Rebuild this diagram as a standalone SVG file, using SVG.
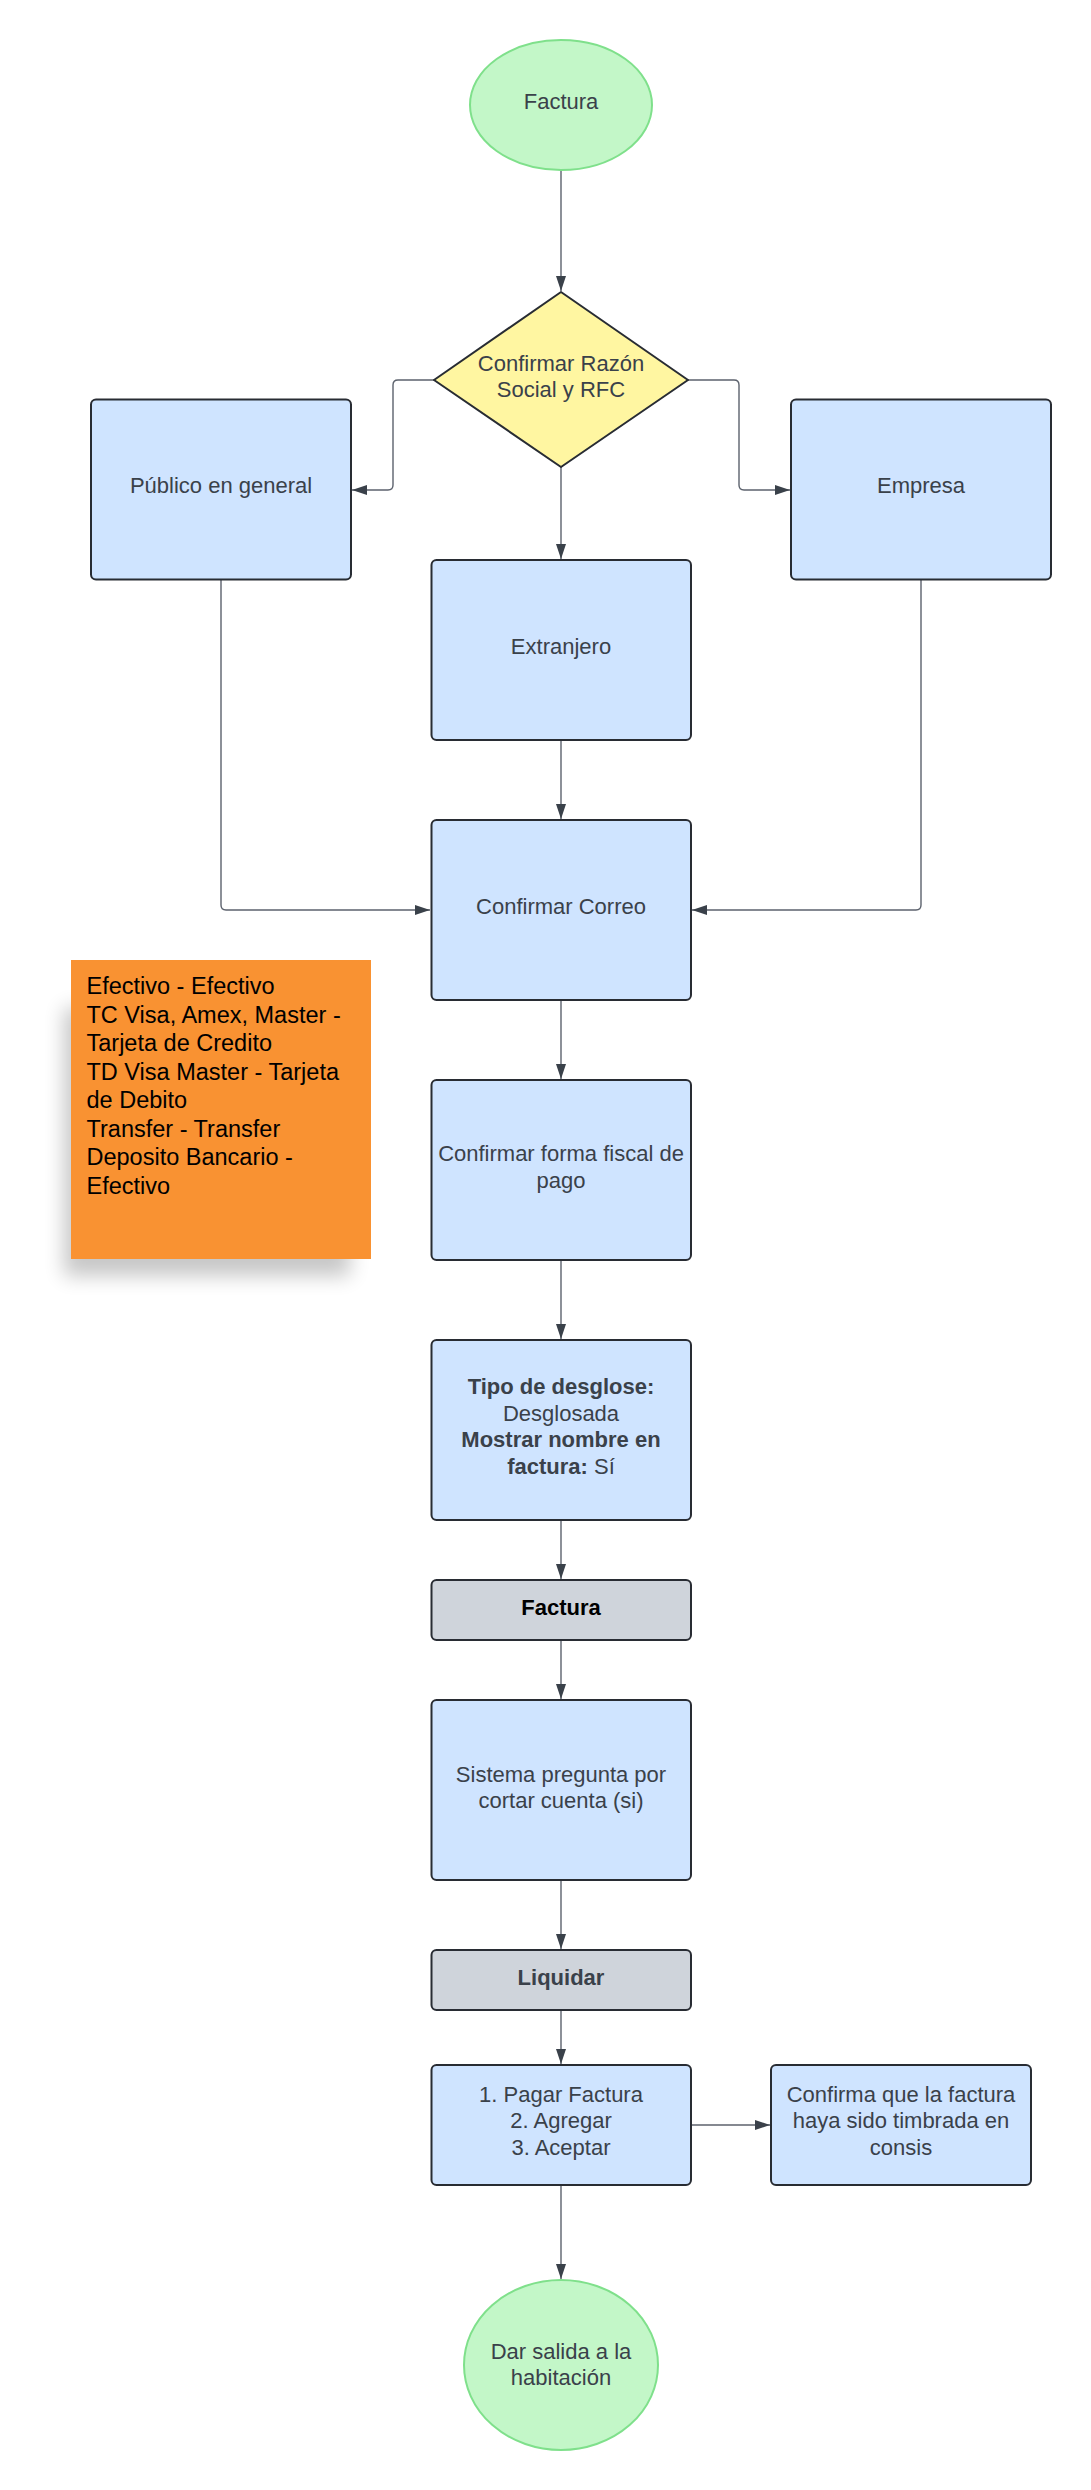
<svg xmlns="http://www.w3.org/2000/svg" width="1091" height="2490" viewBox="0 0 1091 2490">
<style>
.box{fill:#cfe4ff;stroke:#282c33;stroke-width:2}
.gray{fill:#cfd4db;stroke:#282c33;stroke-width:2}
.term{fill:#c3f7c8;stroke:#7fe08b;stroke-width:2}
.dec{fill:#fff6a1;stroke:#282c33;stroke-width:2;stroke-linejoin:round}
.t{font-family:"Liberation Sans",Arial,sans-serif;font-size:22px;fill:#3a414a;text-anchor:middle}
.b{font-weight:bold}
.note{font-family:"Liberation Sans",Arial,sans-serif;font-size:23.5px;fill:#000}
.c{fill:none;stroke:#5c626d;stroke-width:1.4}
</style>
<defs>
<marker id="arr" markerUnits="userSpaceOnUse" markerWidth="16" markerHeight="11" refX="15" refY="5" orient="auto">
<path d="M0,0 L15,5 L0,10 z" fill="#3a414a"/>
</marker>
<filter id="sh" x="-25%" y="-25%" width="150%" height="150%">
<feGaussianBlur stdDeviation="10"/>
</filter>
</defs>

<g id="connectors">
<path class="c" marker-end="url(#arr)" d="M561,170 L561,291"/>
<path class="c" marker-end="url(#arr)" d="M434,380 L398,380 Q393,380 393,385 L393,485 Q393,490 388,490 L352,490"/>
<path class="c" marker-end="url(#arr)" d="M688,380 L734,380 Q739,380 739,385 L739,485 Q739,490 744,490 L790,490"/>
<path class="c" marker-end="url(#arr)" d="M561,467 L561,559"/>
<path class="c" marker-end="url(#arr)" d="M561,740 L561,819"/>
<path class="c" marker-end="url(#arr)" d="M221,580 L221,905 Q221,910 226,910 L430,910"/>
<path class="c" marker-end="url(#arr)" d="M921,580 L921,905 Q921,910 916,910 L692,910"/>
<path class="c" marker-end="url(#arr)" d="M561,1000 L561,1079"/>
<path class="c" marker-end="url(#arr)" d="M561,1260 L561,1339"/>
<path class="c" marker-end="url(#arr)" d="M561,1520 L561,1579"/>
<path class="c" marker-end="url(#arr)" d="M561,1640 L561,1699"/>
<path class="c" marker-end="url(#arr)" d="M561,1880 L561,1949"/>
<path class="c" marker-end="url(#arr)" d="M561,2010 L561,2064"/>
<path class="c" marker-end="url(#arr)" d="M691,2125 L770,2125"/>
<path class="c" marker-end="url(#arr)" d="M561,2185 L561,2279"/>
</g>

<g id="n-factura-start">
<ellipse class="term" cx="561" cy="105" rx="91" ry="65"/>
<text class="t" x="561" y="108.5">Factura</text>
</g>

<g id="n-razon">
<path class="dec" d="M561,292 L688,380 L561,467 L434,380 Z"/>
<text class="t" x="561" y="370.7">Confirmar Razón</text>
<text class="t" x="561" y="396.7">Social y RFC</text>
</g>

<g id="n-publico">
<rect class="box" x="91" y="399.5" width="260" height="180" rx="5"/>
<text class="t" x="221" y="493">Público en general</text>
</g>

<g id="n-empresa">
<rect class="box" x="791" y="399.5" width="260" height="180" rx="5"/>
<text class="t" x="921" y="493">Empresa</text>
</g>

<g id="n-extranjero">
<rect class="box" x="431.5" y="560" width="259.5" height="180" rx="5"/>
<text class="t" x="561" y="653.5">Extranjero</text>
</g>

<g id="n-correo">
<rect class="box" x="431.5" y="820" width="259.5" height="180" rx="5"/>
<text class="t" x="561" y="913.5">Confirmar Correo</text>
</g>

<g id="n-note">
<rect x="64" y="1008" width="286" height="268" fill="#000" opacity="0.22" filter="url(#sh)"/>
<rect x="71" y="960" width="300" height="299" fill="#f99232"/>
<text class="note" x="86.5" y="994">Efectivo - Efectivo</text>
<text class="note" x="86.5" y="1022.5">TC Visa, Amex, Master -</text>
<text class="note" x="86.5" y="1051">Tarjeta de Credito</text>
<text class="note" x="86.5" y="1079.5">TD Visa Master - Tarjeta</text>
<text class="note" x="86.5" y="1108">de Debito</text>
<text class="note" x="86.5" y="1136.5">Transfer - Transfer</text>
<text class="note" x="86.5" y="1165">Deposito Bancario -</text>
<text class="note" x="86.5" y="1193.5">Efectivo</text>
</g>

<g id="n-forma">
<rect class="box" x="431.5" y="1080" width="259.5" height="180" rx="5"/>
<text class="t" x="561" y="1161">Confirmar forma fiscal de</text>
<text class="t" x="561" y="1187.6">pago</text>
</g>

<g id="n-desglose">
<rect class="box" x="431.5" y="1340" width="259.5" height="180" rx="5"/>
<text class="t b" x="561" y="1394.2">Tipo de desglose:</text>
<text class="t" x="561" y="1420.8">Desglosada</text>
<text class="t b" x="561" y="1447.4">Mostrar nombre en</text>
<text class="t" x="561" y="1474"><tspan class="b">factura:</tspan> Sí</text>
</g>

<g id="n-factura-btn">
<rect class="gray" x="431.5" y="1580" width="259.5" height="60" rx="5"/>
<text class="t b" x="561" y="1614.5" style="fill:#000">Factura</text>
</g>

<g id="n-sistema">
<rect class="box" x="431.5" y="1700" width="259.5" height="180" rx="5"/>
<text class="t" x="561" y="1781.5">Sistema pregunta por</text>
<text class="t" x="561" y="1808.1">cortar cuenta (si)</text>
</g>

<g id="n-liquidar">
<rect class="gray" x="431.5" y="1950" width="259.5" height="60" rx="5"/>
<text class="t b" x="561" y="1984.5">Liquidar</text>
</g>

<g id="n-pagar">
<rect class="box" x="431.5" y="2065" width="259.5" height="120" rx="5"/>
<text class="t" x="561" y="2101.5">1. Pagar Factura</text>
<text class="t" x="561" y="2128.1">2. Agregar</text>
<text class="t" x="561" y="2154.7">3. Aceptar</text>
</g>

<g id="n-confirma">
<rect class="box" x="771" y="2065" width="260" height="120" rx="5"/>
<text class="t" x="901" y="2101.5">Confirma que la factura</text>
<text class="t" x="901" y="2128.1">haya sido timbrada en</text>
<text class="t" x="901" y="2154.7">consis</text>
</g>

<g id="n-salida">
<ellipse class="term" cx="561" cy="2365" rx="97" ry="85"/>
<text class="t" x="561" y="2358.5">Dar salida a la</text>
<text class="t" x="561" y="2385.1">habitación</text>
</g>
</svg>
